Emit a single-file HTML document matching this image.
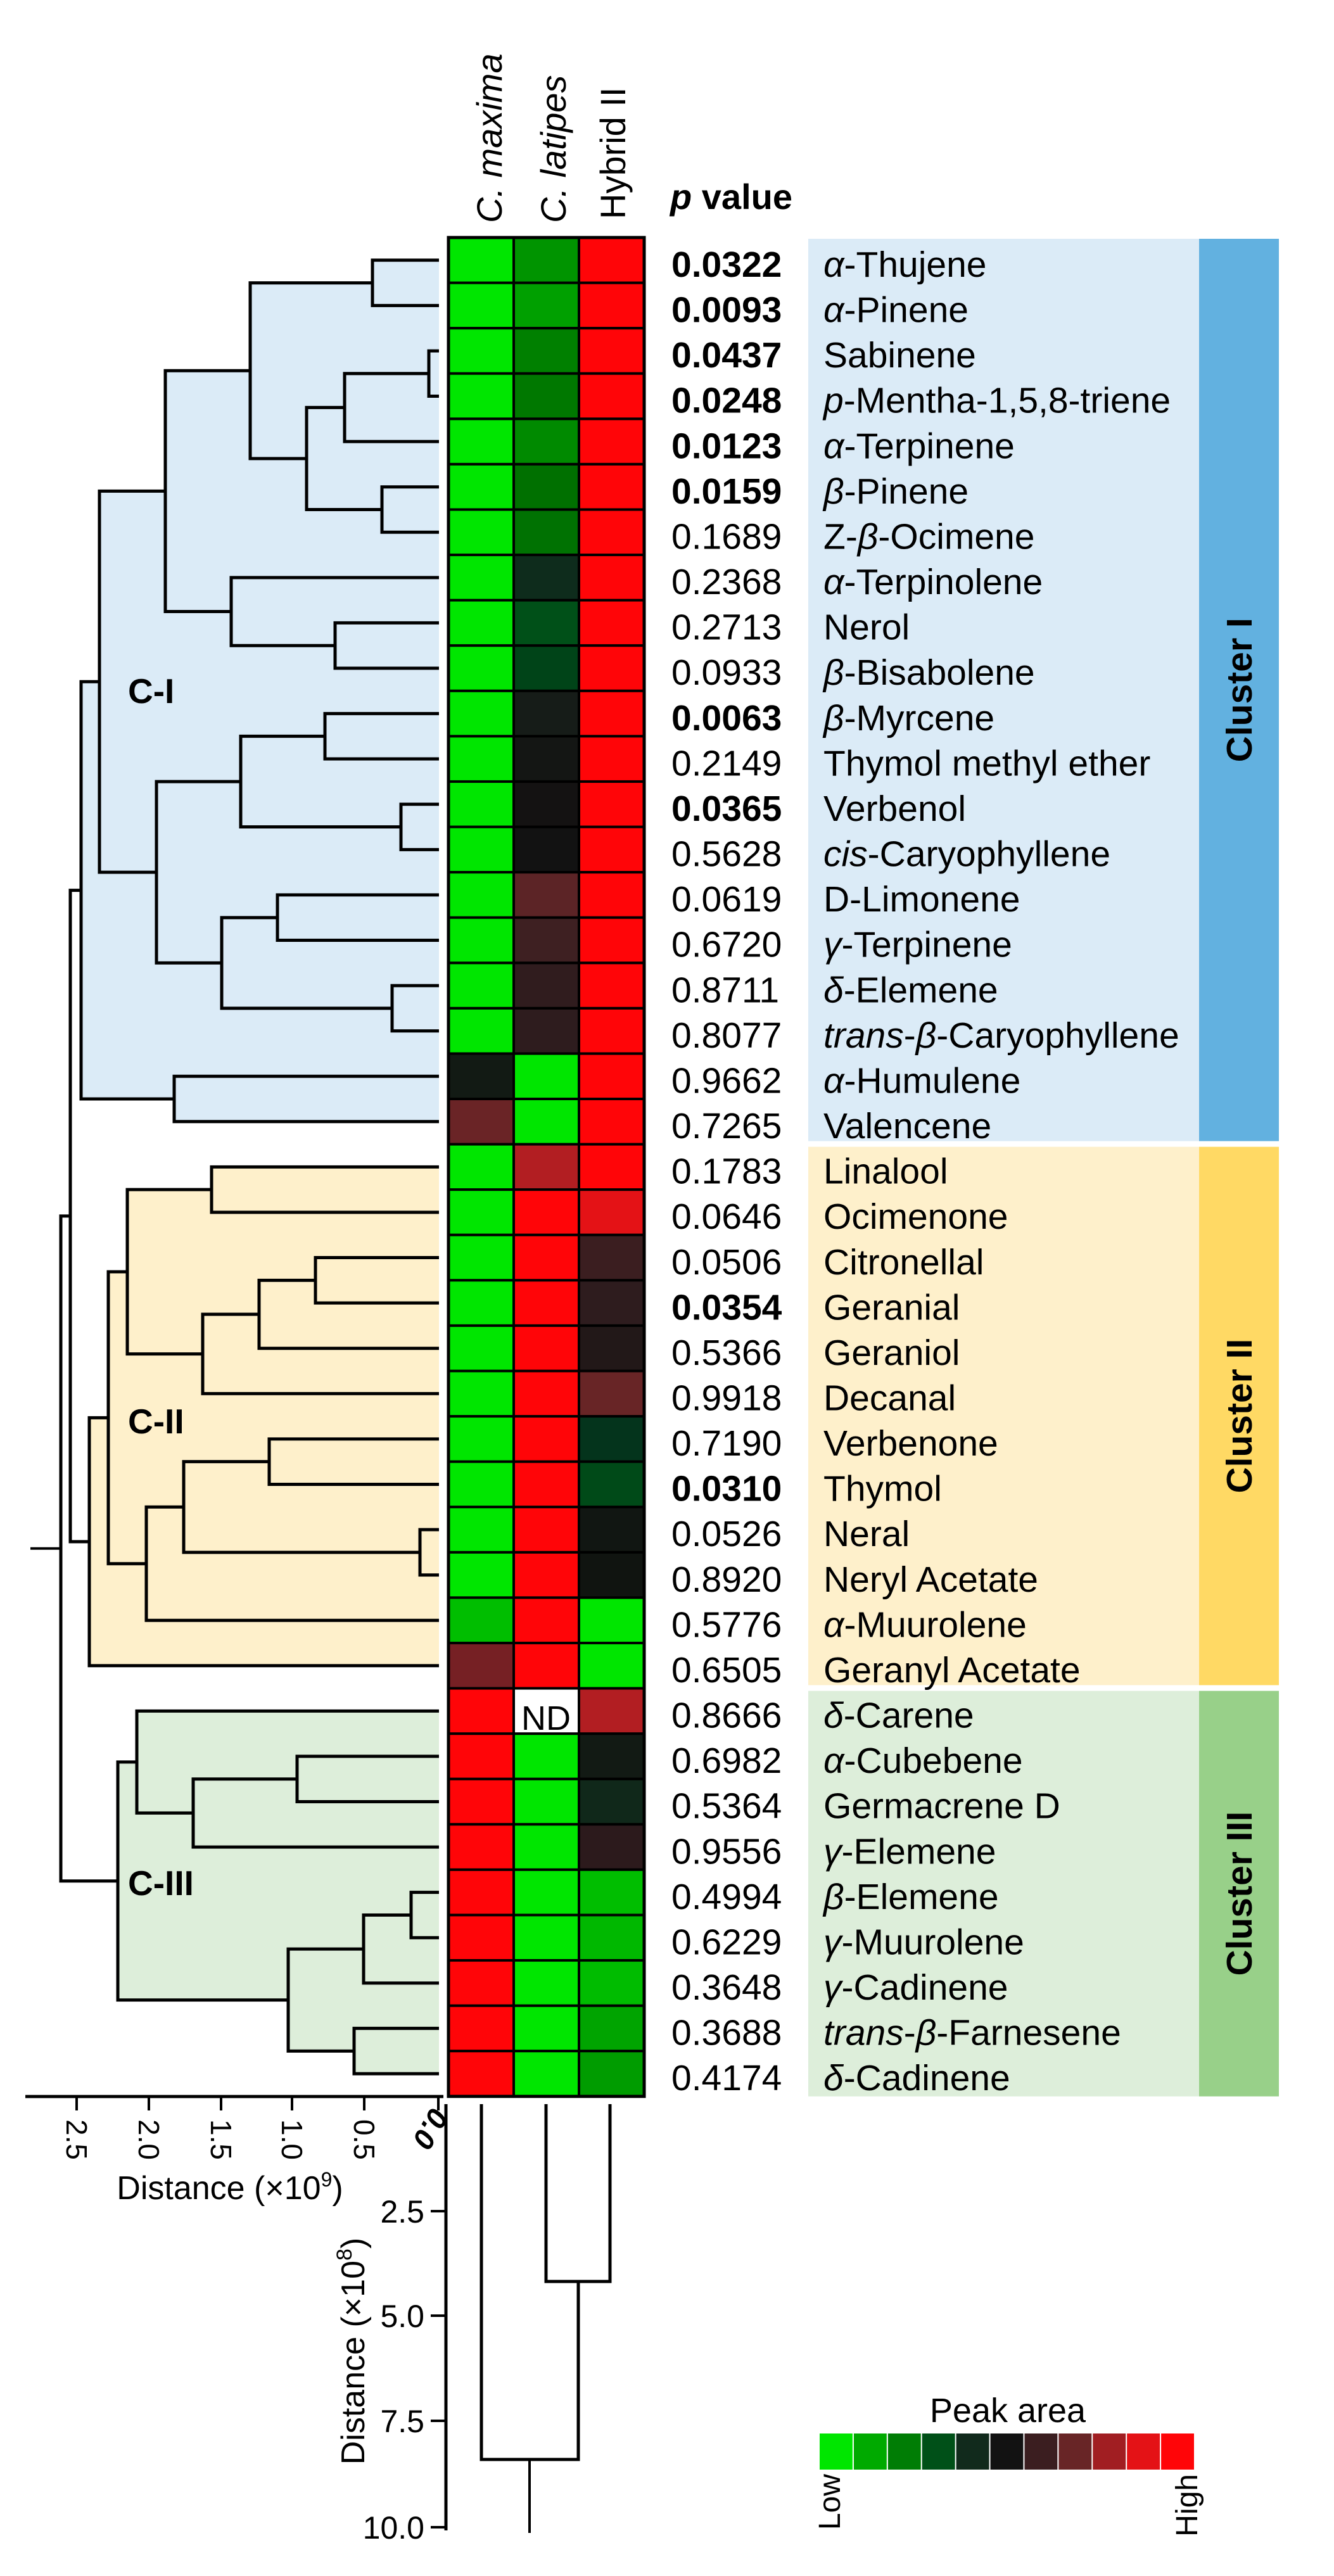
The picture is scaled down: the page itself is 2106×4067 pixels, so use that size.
<!DOCTYPE html>
<html><head><meta charset="utf-8">
<style>
html,body{margin:0;padding:0;background:#fff;}
#c{width:2106px;height:4062px;}
svg text{font-family:"Liberation Sans",sans-serif;}
</style></head>
<body><div id="c"></div>
<script>
(function(){
var W=2106,H=4062;
var top0=375,rh=71.58;
function ry(i){return top0+rh*(i+0.5);}
var s='';
var CL=[{a:0,b:19,l:'#DBEBF7',d:'#62B1E0',t:'Cluster I'},{a:20,b:31,l:'#FEF0CB',d:'#FFD964',t:'Cluster II'},{a:32,b:40,l:'#DDEEDA',d:'#98D089',t:'Cluster III'}];
CL.forEach(function(c,k){
 var y1=top0+rh*c.a+(k?4:2), y2=top0+rh*(c.b+1)-(k<2?5:0);
 s+='<rect x="1276" y="'+y1+'" width="617" height="'+(y2-y1)+'" fill="'+c.l+'"/>';
 s+='<rect x="1893" y="'+y1+'" width="126" height="'+(y2-y1)+'" fill="'+c.d+'"/>';
 var cy=(y1+y2)/2;
 s+='<text x="1976" y="'+cy+'" transform="rotate(-90 1976 '+cy+')" text-anchor="middle" font-size="57" font-weight="bold">'+c.t+'</text>';
});
function N(x,a,b){return {x:x,a:a,b:b};}
var a=N(588,0,1),b=N(677,2,3),c=N(544,b,4),d=N(603,5,6),e=N(484,c,d),f=N(395,a,e);
var g=N(529,8,9),h=N(365,7,g),i_=N(261,f,h);
var j=N(513,10,11),k=N(633,12,13),l=N(380,j,k);
var m=N(438,14,15),n=N(619,16,17),o=N(350,m,n),p=N(247,l,o);
var q=N(157,i_,p),r=N(275,18,19),CI=N(128,q,r);
var t1=N(334,20,21),t2=N(498,22,23),t3=N(409,t2,24),t4=N(320,t3,25),t5=N(201,t1,t4);
var t6=N(425,26,27),t7=N(663,28,29),t8=N(290,t6,t7),t9=N(231,t8,30),t10=N(171,t5,t9),CII=N(141,t10,31);
var u1=N(469,33,34),u2=N(305,u1,35),u3=N(216,32,u2),u4=N(649,36,37),u5=N(574,u4,38),u6=N(559,39,40),u7=N(455,u5,u6),CIII=N(186,u3,u7);
var T=N(111,CI,CII),R=N(96,T,CIII);
var LX=693;
function Y(nd){if(typeof nd==='number')return ry(nd);if(nd.y==null)nd.y=(Y(nd.a)+Y(nd.b))/2;return nd.y;}
function X(nd){return typeof nd==='number'?LX:nd.x;}
Y(R);
var fills='',lines='';
function fill(nd,col){if(typeof nd==='number')return;fills+='<rect x="'+nd.x+'" y="'+Y(nd.a)+'" width="'+(LX-nd.x)+'" height="'+(Y(nd.b)-Y(nd.a))+'" fill="'+col+'"/>';fill(nd.a,col);fill(nd.b,col);}
fill(CI,'#DBEBF7');fill(CII,'#FEF0CB');fill(CIII,'#DDEEDA');
function ln(nd){if(typeof nd==='number')return;lines+='<polyline points="'+X(nd.a)+','+Y(nd.a)+' '+nd.x+','+Y(nd.a)+' '+nd.x+','+Y(nd.b)+' '+X(nd.b)+','+Y(nd.b)+'" fill="none" stroke="#000" stroke-width="5"/>';ln(nd.a);ln(nd.b);}
ln(R);
lines+='<line x1="48" y1="'+Y(R)+'" x2="96" y2="'+Y(R)+'" stroke="#000" stroke-width="4"/>';
s+=fills+lines;
s+='<text x="202" y="1110" font-size="55" font-weight="bold">C-I</text>';
s+='<text x="202" y="2263" font-size="55" font-weight="bold">C-II</text>';
s+='<text x="202" y="2992" font-size="55" font-weight="bold">C-III</text>';
var RD='#FF0508',GR='#00E600';
var c0=[],c1=[],c2=[];
for(var z=0;z<41;z++){c0.push(GR);c2.push(RD);}
c0[18]='#121A14';c0[19]='#6A2426';c0[30]='#00BE00';c0[31]='#762024';for(z=32;z<41;z++)c0[z]=RD;
c1=['#009400','#00A000','#008000','#007800','#008A00','#007000','#007202','#0E2C1C','#005018','#004418','#161C18','#141614','#141212','#121212','#5C2426','#3E2022','#301C1E','#2E1C1E',GR,GR,'#B21E22'];
for(z=21;z<32;z++)c1.push(RD);c1.push('#FFFFFF');for(z=33;z<41;z++)c1.push(GR);
c2[21]='#E41216';c2[22]='#3B1E20';c2[23]='#2E1C1E';c2[24]='#221818';c2[25]='#682526';c2[26]='#04341C';c2[27]='#004A18';c2[28]='#111612';c2[29]='#101410';c2[30]=GR;c2[31]=GR;c2[32]='#B21E22';c2[33]='#121A14';c2[34]='#10281A';c2[35]='#2C1A1C';c2[36]='#00BE00';c2[37]='#00B800';c2[38]='#00BC00';c2[39]='#00A400';c2[40]='#009C00';
var cx=[708,811,914,1017],cols=[c0,c1,c2];
for(z=0;z<41;z++){for(var cc=0;cc<3;cc++){s+='<rect x="'+cx[cc]+'" y="'+(top0+rh*z)+'" width="'+(cx[cc+1]-cx[cc])+'" height="'+rh+'" fill="'+cols[cc][z]+'" stroke="#000" stroke-width="4"/>';}}
s+='<text x="862" y="'+(top0+rh*33-6)+'" text-anchor="middle" font-size="54">ND</text>';
s+='<rect x="708" y="375" width="309" height="'+(rh*41)+'" fill="none" stroke="#000" stroke-width="5"/>';
function vt(x,y,txt,extra){return '<text x="'+x+'" y="'+y+'" transform="rotate(-90 '+x+' '+y+')" '+(extra||'')+'>'+txt+'</text>';}
s+=vt(792,352,'<tspan font-style="italic">C. maxima</tspan>','font-size="56"');
s+=vt(893,352,'<tspan font-style="italic">C. latipes</tspan>','font-size="56"');
s+=vt(987,346,'Hybrid II','font-size="56"');
s+='<text x="1058" y="330" font-size="56" font-weight="bold"><tspan font-style="italic">p</tspan> value</text>';
var rows=[
['0.0322',1,'<I>α</I>-Thujene'],['0.0093',1,'<I>α</I>-Pinene'],['0.0437',1,'Sabinene'],['0.0248',1,'<I>p</I>-Mentha-1,5,8-triene'],['0.0123',1,'<I>α</I>-Terpinene'],['0.0159',1,'<I>β</I>-Pinene'],['0.1689',0,'Z-<I>β</I>-Ocimene'],['0.2368',0,'<I>α</I>-Terpinolene'],['0.2713',0,'Nerol'],['0.0933',0,'<I>β</I>-Bisabolene'],['0.0063',1,'<I>β</I>-Myrcene'],['0.2149',0,'Thymol methyl ether'],['0.0365',1,'Verbenol'],['0.5628',0,'<I>cis</I>-Caryophyllene'],['0.0619',0,'D-Limonene'],['0.6720',0,'<I>γ</I>-Terpinene'],['0.8711',0,'<I>δ</I>-Elemene'],['0.8077',0,'<I>trans</I>-<I>β</I>-Caryophyllene'],['0.9662',0,'<I>α</I>-Humulene'],['0.7265',0,'Valencene'],
['0.1783',0,'Linalool'],['0.0646',0,'Ocimenone'],['0.0506',0,'Citronellal'],['0.0354',1,'Geranial'],['0.5366',0,'Geraniol'],['0.9918',0,'Decanal'],['0.7190',0,'Verbenone'],['0.0310',1,'Thymol'],['0.0526',0,'Neral'],['0.8920',0,'Neryl Acetate'],['0.5776',0,'<I>α</I>-Muurolene'],['0.6505',0,'Geranyl Acetate'],
['0.8666',0,'<I>δ</I>-Carene'],['0.6982',0,'<I>α</I>-Cubebene'],['0.5364',0,'Germacrene D'],['0.9556',0,'<I>γ</I>-Elemene'],['0.4994',0,'<I>β</I>-Elemene'],['0.6229',0,'<I>γ</I>-Muurolene'],['0.3648',0,'<I>γ</I>-Cadinene'],['0.3688',0,'<I>trans</I>-<I>β</I>-Farnesene'],['0.4174',0,'<I>δ</I>-Cadinene']];
rows.forEach(function(rw,z){
 var by=top0+rh*z+62;
 s+='<text x="1060" y="'+by+'" font-size="57"'+(rw[1]?' font-weight="bold"':'')+'>'+rw[0]+'</text>';
 s+='<text x="1300" y="'+by+'" font-size="57">'+rw[2].replace(/<I>/g,'<tspan font-style="italic">').replace(/<\/I>/g,'</tspan>')+'</text>';
});
s+='<line x1="40" y1="3310" x2="700" y2="3310" stroke="#000" stroke-width="5"/>';
var tx=[121,235,349,461,575],tl=['2.5','2.0','1.5','1.0','0.5'];
tx.forEach(function(x,z){s+='<line x1="'+x+'" y1="3310" x2="'+x+'" y2="3332" stroke="#000" stroke-width="4"/>';
 s+='<text x="'+(x-16)+'" y="3346" transform="rotate(90 '+(x-16)+' 3346)" font-size="46">'+tl[z]+'</text>';});
s+='<line x1="692" y1="3310" x2="692" y2="3332" stroke="#000" stroke-width="4"/>';
s+='<text x="682" y="3325" transform="rotate(120 682 3325)" font-size="46" font-style="italic" font-weight="bold">0.0</text>';
s+='<text x="363" y="3472" text-anchor="middle" font-size="52">Distance (×10<tspan font-size="32" dy="-20">9</tspan><tspan dy="20">)</tspan></text>';
s+='<line x1="704" y1="3322" x2="704" y2="3995" stroke="#000" stroke-width="5"/>';
var vy=[3491,3656,3822,3990],vl=['2.5','5.0','7.5','10.0'];
vy.forEach(function(y,z){s+='<line x1="680" y1="'+y+'" x2="704" y2="'+y+'" stroke="#000" stroke-width="4"/>';
 s+='<text x="670" y="'+(y+18)+'" text-anchor="end" font-size="50">'+vl[z]+'</text>';});
s+='<text x="575" y="3712" transform="rotate(-90 575 3712)" text-anchor="middle" font-size="52">Distance (×10<tspan font-size="34" dy="-20">8</tspan><tspan dy="20">)</tspan></text>';
var st='stroke="#000" stroke-width="5" fill="none"';
s+='<polyline points="862,3322 862,3602 963,3602 963,3322" '+st+'/>';
s+='<polyline points="760,3322 760,3883 913,3883 913,3602" '+st+'/>';
s+='<line x1="836" y1="3883" x2="836" y2="3999" stroke="#000" stroke-width="4"/>';
var lc=['#00E600','#00AA00','#007D05','#005018','#112A1C','#121212','#3B1E20','#682526','#A11E22','#E41216','#FF0508'];
var lw=(1886-1293)/11;
lc.forEach(function(col,z){s+='<rect x="'+(1293+lw*z+1)+'" y="3842" width="'+(lw-2)+'" height="57" fill="'+col+'"/>';});
s+='<text x="1591" y="3824" text-anchor="middle" font-size="54">Peak area</text>';
s+='<text x="1326" y="3906" transform="rotate(-90 1326 3906)" text-anchor="end" font-size="48">Low</text>';
s+='<text x="1890" y="3906" transform="rotate(-90 1890 3906)" text-anchor="end" font-size="48">High</text>';
document.getElementById('c').innerHTML='<svg xmlns="http://www.w3.org/2000/svg" width="'+W+'" height="'+H+'" viewBox="0 0 '+W+' '+H+'">'+s+'</svg>';
})();
</script>
</body></html>
